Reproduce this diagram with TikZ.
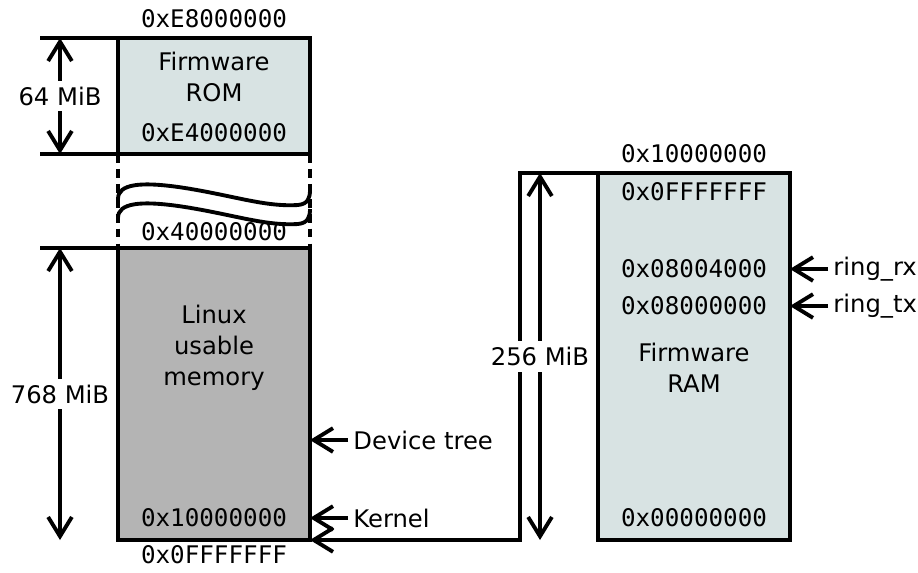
\documentclass[tikz,border=0pt]{standalone}
\usepackage{fontspec}
\setmainfont{DejaVu Sans}
\setmonofont{DejaVu Sans Mono}
\usetikzlibrary{arrows.meta}
\tikzset{every picture/.style={line width=2.2pt}}
\definecolor{romfill}{RGB}{216,227,227}
\definecolor{memfill}{RGB}{180,180,180}

\begin{document}
\begin{tikzpicture}[x=0.02cm,y=-0.02cm,line width=2.2pt,font=\fontsize{13.8}{17.5}\selectfont,
        arr/.style={-{Straight Barb[length=11pt,width=13.5pt]}},
        dim/.style={{Straight Barb[length=11pt,width=13.5pt]}-{Straight Barb[length=11pt,width=13.5pt]}},
        box/.style={draw, minimum width=3.84cm, inner sep=0pt, outer sep=0pt},
        addr/.style={font=\fontsize{13.8}{17.5}\selectfont\ttfamily},
        gap/.style={dash pattern=on 5pt off 3.5pt}]
        \useasboundingbox (0,0) rectangle (918,572);
        % memory regions
        \node[box,fill=romfill,minimum height=2.32cm] (rom) at (214,96) {};
        \node[box,fill=memfill,minimum height=5.84cm] (linux) at (214,394) {};
        \node[box,fill=romfill,minimum height=7.34cm] (ram) at (694,356.5) {};
        % addresses
        \node[addr] (a1) at (214,19) {0xE8000000};
        \node[addr] (a2) at (214,133) {0xE4000000};
        \node[addr] (a3) at (214,232) {0x40000000};
        \node[addr] (a4) at (214,518) {0x10000000};
        \node[addr] (a5) at (214,555) {0x0FFFFFFF};
        \node[addr] (b1) at (694,154) {0x10000000};
        \node[addr] (b2) at (694,192) {0x0FFFFFFF};
        \node[addr] (b3) at (694,269) {0x08004000};
        \node[addr] (b4) at (694,306) {0x08000000};
        \node[addr] (b5) at (694,518) {0x00000000};
        \node[align=center] (romtxt) at (214,77) {Firmware\\ROM};
        \node[align=center] (linuxtxt) at (214,348) {Linux\\usable\\memory};
        \node[align=center] (ramtxt) at (694,368) {Firmware\\RAM};
        % firmware RAM mapped into the low memory
        \draw[arr] (ram.north west) -- (520,173) |- (linux.south east);
        % sizes
        \coordinate (r1) at (40,38);
        \coordinate (r2) at (40,154);
        \coordinate (l1) at (40,248);
        \draw (r1) -- (rom.north west);
        \draw (r2) -- (rom.south west);
        \draw (l1) -- (linux.north west);
        \draw[dim] (60,38) -- node[fill=white,inner xsep=1pt] (s1) {64 MiB} (60,154);
        \draw[dim] (60,248) -- node[fill=white,inner xsep=1pt] (s2) {768 MiB} (60,540);
        \draw[dim] (540,173) -- node[fill=white,inner xsep=1pt] (s3) {256 MiB} (540,540);
        % cut
        \draw[gap] (rom.south west) -- (linux.north west);
        \draw[gap] (rom.south east) -- (linux.north east);
        \draw (118,199) .. controls (118,184) and (140,181) .. (185,188)
            .. controls (235,196) and (265,207) .. (298,205)
            .. controls (308,204) and (310,198) .. (310,190);
        \draw (118,218) .. controls (118,203) and (140,200) .. (185,207)
            .. controls (235,215) and (265,226) .. (298,224)
            .. controls (308,223) and (310,217) .. (310,209);
        % pointers
        \node[anchor=west,inner xsep=2pt] (dt) at (348,440) {Device tree};
        \node[anchor=west,inner xsep=2pt] (kern) at (348,518) {Kernel};
        \node[anchor=west,inner xsep=2pt] (rx) at (828,269) {ring\_rx};
        \node[anchor=west,inner xsep=2pt] (tx) at (828,306) {ring\_tx};
        \draw[arr] (dt.west) -- (linux.east |- dt.west);
        \draw[arr] (kern.west) -- (linux.east |- kern.west);
        \draw[arr] (rx.west) -- (ram.east |- rx.west);
        \draw[arr] (tx.west) -- (ram.east |- tx.west);
\end{tikzpicture}
\end{document}
